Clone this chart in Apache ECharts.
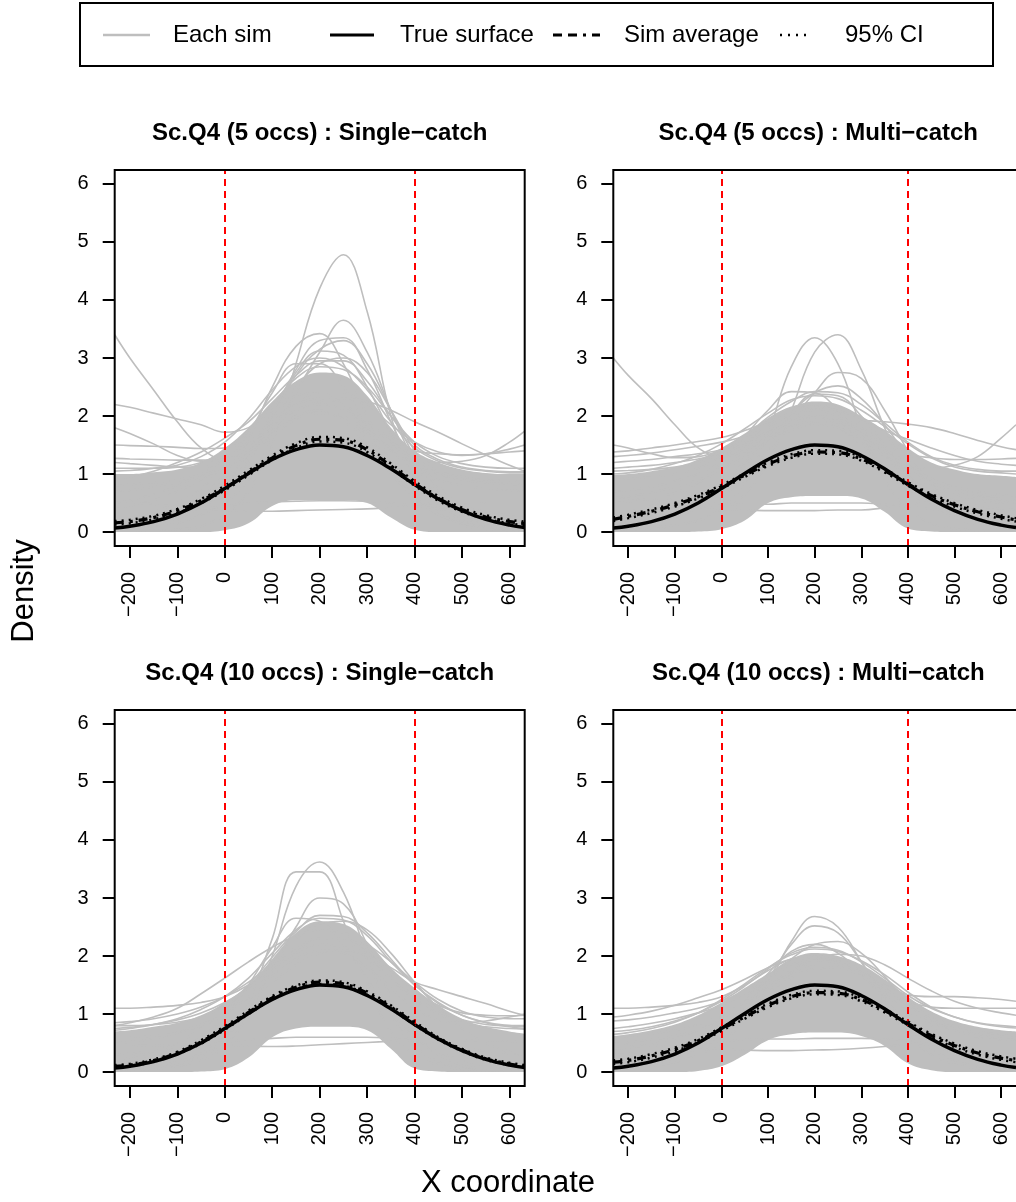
<!DOCTYPE html>
<html><head><meta charset="utf-8">
<script src="https://cdn.jsdelivr.net/npm/echarts@6/dist/echarts.min.js"></script>
<style>html,body{margin:0;padding:0;background:#fff}#c{width:1016px;height:1202px}</style>
</head><body><div id="c"></div>
<script>
// ---------- data ----------
const xs = [-232,-200,-150,-100,-50,0,50,100,150,200,250,300,350,400,450,500,550,600,632];
const xTicks = [-200,-100,0,100,200,300,400,500,600];
const yTicks = [0,1,2,3,4,5,6];
const vlineX = [0,400];
const titles = ['Sc.Q4 (5 occs) : Single\u2212catch','Sc.Q4 (5 occs) : Multi\u2212catch','Sc.Q4 (10 occs) : Single\u2212catch','Sc.Q4 (10 occs) : Multi\u2212catch'];
const legendLabels = ['Each sim','True surface','Sim average','95% CI'];

const truth = [0.07,0.10,0.18,0.31,0.50,0.75,1.01,1.25,1.42,1.50,1.47,1.32,1.09,0.82,0.57,0.37,0.22,0.12,0.08];

// panel 1
const avg1  = [0.16,0.18,0.25,0.37,0.54,0.76,1.02,1.28,1.49,1.60,1.58,1.42,1.14,0.84,0.58,0.39,0.26,0.18,0.15];
const ciLo1 = [0.13,0.15,0.22,0.33,0.50,0.72,0.98,1.24,1.45,1.56,1.54,1.38,1.10,0.80,0.54,0.35,0.23,0.15,0.12];
const ciHi1 = [0.19,0.21,0.28,0.40,0.57,0.80,1.06,1.32,1.53,1.64,1.62,1.46,1.18,0.88,0.62,0.42,0.29,0.21,0.18];
const band1Lo = [0,0,0,0,0,0.03,0.15,0.45,0.55,0.55,0.55,0.5,0.25,0.04,0,0,0,0,0];
const band1Hi = [1.0,1.0,1.03,1.08,1.2,1.45,1.8,2.25,2.6,2.75,2.7,2.35,1.8,1.4,1.2,1.08,1.02,1.0,1.0];
const sims1 = [
 [0.02,0.02,0.03,0.05,0.1,0.3,0.7,1.5,2.9,4.2,4.78,3.8,2.0,0.9,0.35,0.12,0.05,0.03,0.02],
 [0.05,0.06,0.1,0.15,0.3,0.5,0.9,1.6,2.4,3.1,3.65,3.1,2.1,1.2,0.6,0.3,0.15,0.08,0.05],
 [0.1,0.12,0.2,0.35,0.6,1.0,1.6,2.5,3.2,3.42,2.9,2.0,1.2,0.6,0.3,0.15,0.08,0.05,0.04],
 [0.05,0.07,0.12,0.2,0.4,0.7,1.2,2.0,2.8,3.3,3.35,2.8,1.9,1.1,0.5,0.2,0.1,0.05,0.04],
 [0.1,0.12,0.18,0.3,0.5,0.8,1.3,2.0,2.7,3.15,3.3,2.9,2.1,1.3,0.7,0.35,0.18,0.1,0.08],
 [0.08,0.1,0.18,0.3,0.5,0.85,1.35,2.05,2.75,3.12,3.05,2.5,1.7,1.0,0.5,0.25,0.12,0.07,0.05],
 [0.15,0.18,0.25,0.38,0.6,0.9,1.35,1.95,2.5,2.9,3.0,2.75,2.1,1.4,0.8,0.45,0.25,0.15,0.1],
 [0.2,0.25,0.35,0.5,0.75,1.15,1.7,2.4,2.9,2.9,2.5,1.8,1.1,0.6,0.3,0.15,0.1,0.06,0.05],
 [3.4,3.0,2.45,1.9,1.45,1.25,1.35,1.7,2.0,2.1,1.9,1.5,1.0,0.6,0.35,0.2,0.12,0.08,0.06],
 [2.2,2.15,2.05,1.95,1.85,1.72,1.8,2.1,2.35,2.4,2.2,1.8,1.4,1.1,0.9,0.8,0.75,0.72,0.7],
 [1.8,1.7,1.52,1.32,1.22,1.25,1.4,1.7,2.0,2.1,1.95,1.6,1.2,0.85,0.6,0.45,0.35,0.3,0.28],
 [1.5,1.49,1.48,1.46,1.44,1.45,1.6,1.9,2.2,2.3,2.2,1.9,1.55,1.25,1.05,0.95,0.9,0.88,0.87],
 [1.27,1.26,1.25,1.24,1.24,1.3,1.5,1.8,2.1,2.2,2.1,1.8,1.5,1.2,1.0,0.9,0.85,0.82,0.8],
 [1.2,1.18,1.15,1.12,1.12,1.2,1.4,1.7,1.95,2.05,1.95,1.7,1.4,1.15,1.0,0.92,0.88,0.86,0.85],
 [0.5,0.55,0.65,0.8,1.0,1.25,1.55,1.85,2.1,2.25,2.3,2.25,2.1,1.9,1.72,1.52,1.33,1.15,1.05],
 [0.4,0.45,0.55,0.7,0.9,1.15,1.45,1.75,2.0,2.1,2.0,1.75,1.45,1.25,1.2,1.22,1.32,1.55,1.74],
 [0.8,0.82,0.85,0.9,1.0,1.2,1.5,1.85,2.2,2.4,2.4,2.2,1.85,1.55,1.38,1.32,1.35,1.43,1.5],
 [0.7,0.72,0.78,0.85,0.95,1.1,1.35,1.65,1.95,2.1,2.1,1.9,1.6,1.4,1.35,1.33,1.35,1.38,1.4],
 [1.05,1.06,1.1,1.15,1.3,1.55,1.95,2.45,2.85,3.0,2.85,2.45,1.9,1.45,1.22,1.1,1.05,1.02,1.02],
 [0.9,0.95,1.05,1.2,1.38,1.62,1.9,2.3,2.7,2.95,2.95,2.6,2.0,1.5,1.25,1.12,1.06,1.04,1.04],
 [1.1,1.1,1.1,1.12,1.2,1.4,1.75,2.2,2.65,2.85,2.8,2.5,2.0,1.55,1.3,1.18,1.12,1.1,1.1],
 [0.55,0.52,0.48,0.44,0.41,0.38,0.36,0.36,0.37,0.38,0.39,0.4,0.42,0.44,0.46,0.48,0.5,0.5,0.5],
 [0.3,0.3,0.32,0.35,0.4,0.45,0.5,0.52,0.53,0.54,0.54,0.53,0.5,0.45,0.4,0.35,0.32,0.3,0.3]
];

// panel 2
const avg2  = [0.22,0.27,0.36,0.47,0.61,0.78,0.98,1.17,1.31,1.38,1.37,1.26,1.06,0.83,0.63,0.47,0.35,0.26,0.21];
const ciLo2 = [0.19,0.24,0.33,0.44,0.58,0.75,0.95,1.14,1.28,1.35,1.34,1.23,1.03,0.80,0.60,0.44,0.32,0.23,0.18];
const ciHi2 = [0.25,0.30,0.39,0.50,0.64,0.81,1.01,1.20,1.34,1.41,1.40,1.29,1.09,0.86,0.66,0.50,0.38,0.29,0.24];
const band2Lo = [0,0,0,0,0.01,0.05,0.2,0.5,0.6,0.62,0.62,0.58,0.35,0.06,0.01,0,0,0,0];
const band2Hi = [0.98,1.0,1.05,1.12,1.25,1.45,1.7,1.95,2.15,2.25,2.2,2.0,1.75,1.45,1.2,1.08,1.0,0.97,0.95];
const sims2 = [
 [3.0,2.7,2.3,1.85,1.45,1.3,1.4,1.65,1.85,1.9,1.8,1.5,1.1,0.75,0.5,0.35,0.25,0.2,0.18],
 [0.03,0.04,0.06,0.1,0.2,0.4,0.85,1.7,2.85,3.35,2.9,1.8,0.9,0.4,0.15,0.06,0.03,0.02,0.02],
 [0.05,0.06,0.08,0.12,0.2,0.35,0.65,1.2,2.1,3.1,3.4,2.8,1.8,1.0,0.5,0.25,0.12,0.07,0.05],
 [0.1,0.12,0.16,0.25,0.4,0.6,0.95,1.4,1.9,2.4,2.75,2.65,2.1,1.4,0.8,0.4,0.2,0.1,0.08],
 [0.2,0.22,0.3,0.42,0.6,0.85,1.2,1.6,2.05,2.4,2.52,2.3,1.85,1.3,0.85,0.5,0.3,0.2,0.15],
 [0.3,0.35,0.45,0.6,0.85,1.2,1.65,2.1,2.42,2.4,2.1,1.6,1.1,0.7,0.45,0.3,0.22,0.18,0.15],
 [0.15,0.18,0.25,0.35,0.55,0.8,1.15,1.6,2.05,2.38,2.35,2.0,1.5,1.0,0.6,0.35,0.2,0.12,0.1],
 [1.5,1.45,1.35,1.28,1.3,1.42,1.65,1.95,2.15,2.2,2.05,1.7,1.3,0.95,0.7,0.55,0.45,0.4,0.38],
 [1.38,1.4,1.45,1.5,1.56,1.63,1.75,1.9,2.0,2.0,1.85,1.6,1.3,1.0,0.8,0.65,0.55,0.5,0.48],
 [1.3,1.32,1.36,1.42,1.48,1.55,1.65,1.8,1.95,2.0,1.9,1.65,1.35,1.05,0.85,0.7,0.6,0.55,0.52],
 [1.2,1.22,1.25,1.3,1.35,1.42,1.55,1.72,1.9,1.98,1.9,1.7,1.4,1.1,0.9,0.75,0.65,0.6,0.58],
 [1.1,1.12,1.15,1.2,1.26,1.35,1.5,1.7,1.9,2.0,1.95,1.75,1.45,1.15,0.92,0.78,0.7,0.65,0.62],
 [0.6,0.62,0.68,0.78,0.9,1.1,1.35,1.6,1.8,1.9,1.92,1.92,1.9,1.86,1.8,1.7,1.58,1.47,1.42],
 [0.5,0.52,0.58,0.68,0.85,1.05,1.3,1.55,1.75,1.85,1.8,1.6,1.35,1.15,1.1,1.15,1.3,1.62,1.85],
 [0.7,0.72,0.78,0.88,1.0,1.2,1.45,1.75,2.0,2.15,2.1,1.95,1.75,1.6,1.45,1.32,1.22,1.17,1.15],
 [0.9,0.92,0.95,1.0,1.1,1.3,1.55,1.85,2.05,2.1,2.0,1.8,1.55,1.35,1.28,1.25,1.25,1.26,1.27],
 [1.0,1.02,1.08,1.18,1.32,1.52,1.78,2.05,2.28,2.35,2.3,2.1,1.82,1.52,1.28,1.12,1.05,1.02,1.0],
 [1.05,1.06,1.08,1.12,1.2,1.38,1.65,1.98,2.25,2.42,2.4,2.2,1.88,1.55,1.3,1.15,1.08,1.05,1.05],
 [0.6,0.58,0.55,0.5,0.45,0.4,0.38,0.37,0.37,0.37,0.38,0.38,0.42,0.48,0.52,0.55,0.57,0.58,0.58],
 [0.3,0.32,0.35,0.4,0.44,0.47,0.48,0.48,0.5,0.5,0.5,0.5,0.48,0.45,0.4,0.35,0.32,0.3,0.3]
];

// panel 3
const avg3  = [0.10,0.12,0.20,0.33,0.52,0.76,1.03,1.28,1.46,1.55,1.52,1.36,1.12,0.84,0.58,0.38,0.23,0.14,0.10];
const ciLo3 = [0.08,0.10,0.18,0.31,0.49,0.73,1.00,1.25,1.43,1.52,1.49,1.33,1.09,0.81,0.56,0.36,0.21,0.12,0.08];
const ciHi3 = [0.12,0.14,0.22,0.35,0.55,0.79,1.06,1.31,1.49,1.58,1.55,1.39,1.15,0.87,0.60,0.40,0.25,0.16,0.12];
const band3Lo = [0,0,0,0,0.01,0.05,0.25,0.6,0.75,0.78,0.78,0.72,0.4,0.06,0.01,0,0,0,0];
const band3Hi = [0.7,0.72,0.78,0.85,0.98,1.2,1.5,1.95,2.4,2.6,2.55,2.25,1.8,1.45,1.15,0.92,0.78,0.7,0.66];
const sims3 = [
 [0.02,0.03,0.05,0.1,0.2,0.45,1.0,2.0,3.2,3.62,3.1,2.0,1.0,0.45,0.18,0.07,0.03,0.02,0.02],
 [0.03,0.04,0.07,0.13,0.27,0.55,1.2,2.3,3.45,3.45,2.6,1.5,0.7,0.3,0.12,0.05,0.03,0.02,0.02],
 [0.05,0.06,0.1,0.18,0.32,0.6,1.05,1.75,2.5,3.0,2.9,2.2,1.3,0.65,0.3,0.12,0.06,0.04,0.03],
 [0.15,0.18,0.27,0.4,0.6,0.95,1.5,2.15,2.65,2.6,2.2,1.6,1.0,0.6,0.35,0.2,0.12,0.08,0.06],
 [0.2,0.25,0.35,0.5,0.75,1.05,1.45,1.9,2.3,2.55,2.6,2.45,2.05,1.55,1.1,0.75,0.5,0.35,0.28],
 [1.1,1.1,1.12,1.15,1.2,1.3,1.5,1.8,2.1,2.3,2.3,2.1,1.75,1.4,1.15,1.02,0.98,0.97,0.98],
 [0.8,0.85,0.95,1.1,1.35,1.62,1.9,2.15,2.35,2.45,2.4,2.2,1.9,1.55,1.25,1.05,0.95,0.92,0.92],
 [0.85,0.87,0.92,1.0,1.12,1.3,1.55,1.85,2.15,2.3,2.25,2.0,1.65,1.3,1.05,0.9,0.82,0.8,0.8],
 [0.75,0.77,0.82,0.9,1.02,1.2,1.45,1.75,2.05,2.2,2.15,1.95,1.6,1.25,1.0,0.85,0.78,0.75,0.74],
 [0.5,0.52,0.58,0.68,0.82,1.0,1.25,1.55,1.85,2.05,2.1,2.0,1.8,1.55,1.42,1.3,1.18,1.05,0.98],
 [0.6,0.6,0.62,0.68,0.8,1.0,1.3,1.65,1.95,2.1,2.05,1.8,1.45,1.1,0.9,0.85,0.88,0.95,1.0],
 [0.72,0.75,0.82,0.92,1.08,1.3,1.62,2.05,2.45,2.65,2.62,2.35,1.9,1.5,1.2,0.98,0.85,0.78,0.75],
 [0.8,0.8,0.82,0.86,0.95,1.15,1.5,1.98,2.42,2.7,2.68,2.4,1.95,1.5,1.18,0.98,0.86,0.8,0.78],
 [0.45,0.45,0.46,0.47,0.48,0.47,0.45,0.44,0.45,0.47,0.49,0.51,0.53,0.55,0.55,0.55,0.54,0.53,0.52],
 [0.3,0.32,0.35,0.4,0.46,0.52,0.56,0.58,0.6,0.6,0.6,0.6,0.58,0.54,0.48,0.42,0.36,0.32,0.3]
];

// panel 4
const avg4  = [0.17,0.20,0.28,0.39,0.54,0.74,0.95,1.15,1.30,1.37,1.36,1.25,1.06,0.84,0.63,0.46,0.33,0.24,0.20];
const ciLo4 = [0.14,0.17,0.25,0.36,0.51,0.71,0.92,1.12,1.27,1.34,1.33,1.22,1.03,0.81,0.60,0.43,0.30,0.21,0.17];
const ciHi4 = [0.20,0.23,0.31,0.42,0.57,0.77,0.98,1.18,1.33,1.40,1.39,1.28,1.09,0.87,0.66,0.49,0.36,0.27,0.23];
const band4Lo = [0,0,0,0,0.02,0.1,0.3,0.55,0.65,0.68,0.68,0.62,0.45,0.15,0.03,0,0,0,0];
const band4Hi = [0.62,0.65,0.72,0.82,0.98,1.2,1.45,1.7,1.95,2.05,2.0,1.85,1.6,1.3,1.05,0.88,0.78,0.72,0.7];
const sims4 = [
 [0.05,0.06,0.1,0.17,0.3,0.5,0.9,1.5,2.25,2.68,2.5,1.9,1.2,0.65,0.3,0.13,0.06,0.04,0.03],
 [0.08,0.1,0.15,0.24,0.4,0.65,1.05,1.6,2.2,2.52,2.4,1.9,1.3,0.75,0.4,0.2,0.1,0.06,0.05],
 [0.2,0.22,0.3,0.42,0.6,0.85,1.2,1.6,1.95,2.2,2.25,2.05,1.65,1.2,0.8,0.5,0.3,0.2,0.15],
 [0.15,0.18,0.25,0.38,0.58,0.85,1.25,1.7,2.08,2.2,2.05,1.7,1.25,0.85,0.5,0.3,0.18,0.12,0.1],
 [0.4,0.42,0.48,0.58,0.72,0.92,1.18,1.48,1.75,1.95,2.03,2.0,1.85,1.62,1.4,1.22,1.1,1.02,0.98],
 [1.1,1.1,1.12,1.15,1.2,1.3,1.5,1.75,1.95,2.0,1.9,1.65,1.35,1.05,0.85,0.72,0.65,0.6,0.58],
 [0.95,0.98,1.05,1.15,1.28,1.42,1.6,1.8,1.95,2.0,1.92,1.72,1.45,1.15,0.9,0.72,0.6,0.55,0.52],
 [0.88,0.9,0.95,1.02,1.1,1.22,1.4,1.62,1.85,1.95,1.9,1.72,1.45,1.15,0.92,0.78,0.68,0.62,0.6],
 [0.75,0.78,0.84,0.92,1.02,1.15,1.35,1.6,1.82,1.92,1.88,1.7,1.45,1.18,0.95,0.8,0.7,0.65,0.62],
 [0.6,0.62,0.66,0.72,0.82,0.98,1.2,1.45,1.7,1.85,1.85,1.7,1.5,1.33,1.3,1.3,1.28,1.25,1.22],
 [0.5,0.52,0.56,0.62,0.72,0.88,1.1,1.38,1.62,1.78,1.8,1.65,1.42,1.22,1.12,1.1,1.1,1.1,1.1],
 [0.65,0.68,0.75,0.86,1.02,1.25,1.52,1.8,2.02,2.12,2.08,1.92,1.68,1.38,1.12,0.95,0.84,0.78,0.76],
 [0.7,0.72,0.78,0.88,1.02,1.22,1.48,1.78,2.05,2.15,2.1,1.9,1.62,1.32,1.1,0.95,0.85,0.8,0.78],
 [0.5,0.48,0.46,0.44,0.42,0.4,0.38,0.37,0.37,0.38,0.39,0.41,0.44,0.48,0.5,0.52,0.52,0.52,0.52],
 [0.3,0.32,0.36,0.42,0.48,0.53,0.56,0.57,0.57,0.58,0.58,0.58,0.57,0.54,0.48,0.42,0.36,0.32,0.3]
];

// ---------- layout ----------
const FONT = '"Liberation Sans", Arial, Helvetica, sans-serif';
const GRAY = '#bebebe';
const W = 410, H = 376;
const panels = [
  {left:114.7, top:170, title:titles[0], lo:band1Lo, hi:band1Hi, sims:sims1, avg:avg1, ciLo:ciLo1, ciHi:ciHi1},
  {left:613.3, top:170, title:titles[1], lo:band2Lo, hi:band2Hi, sims:sims2, avg:avg2, ciLo:ciLo2, ciHi:ciHi2},
  {left:114.7, top:710, title:titles[2], lo:band3Lo, hi:band3Hi, sims:sims3, avg:avg3, ciLo:ciLo3, ciHi:ciHi3},
  {left:613.3, top:710, title:titles[3], lo:band4Lo, hi:band4Hi, sims:sims4, avg:avg4, ciLo:ciLo4, ciHi:ciHi4}
];
const pts = arr => xs.map((x,i)=>[x, arr[i]]);
const fmt = v => (v < 0 ? '\u2212' + Math.abs(v) : String(v));
const SM = 0.4;

const grid = [], xAxis = [], yAxis = [], series = [], graphic = [];
panels.forEach((p, k) => {
  grid.push({left:p.left, top:p.top, width:W, height:H, show:false});
  xAxis.push({gridIndex:k, type:'value', min:-232, max:632,
    axisLine:{show:false, onZero:false}, splitLine:{show:false},
    axisTick:{show:true, customValues:xTicks, length:12, lineStyle:{color:'#000', width:2}},
    axisLabel:{customValues:xTicks, rotate:90, margin:26, fontSize:20, color:'#000', fontFamily:FONT, formatter:fmt}});
  yAxis.push({gridIndex:k, type:'value', min:-0.24, max:6.24,
    axisLine:{show:false, onZero:false}, splitLine:{show:false},
    axisTick:{show:true, customValues:yTicks, length:12, lineStyle:{color:'#000', width:2}},
    axisLabel:{customValues:yTicks, margin:26, fontSize:20, color:'#000', fontFamily:FONT, formatter:fmt}});
  const base = {type:'line', xAxisIndex:k, yAxisIndex:k, symbol:'none', smooth:SM, silent:true, animation:false};
  // dense band of simulations: gray up to the upper envelope, white below the lower envelope
  series.push(Object.assign({}, base, {data:pts(p.hi), lineStyle:{width:0}, areaStyle:{color:GRAY, opacity:1}, z:1}));
  series.push(Object.assign({}, base, {data:pts(p.lo), lineStyle:{width:0}, areaStyle:{color:'#ffffff', opacity:1}, z:1}));
  // individual sims
  p.sims.forEach(s => series.push(Object.assign({}, base, {data:pts(s), lineStyle:{color:GRAY, width:1.6}, z:2})));
  // red verticals
  series.push(Object.assign({}, base, {data:[], z:3,
    markLine:{silent:true, symbol:['none','none'], label:{show:false}, animation:false,
      lineStyle:{color:'#ff0000', type:[7,5], width:2}, data:vlineX.map(x=>({xAxis:x}))}}));
  // truth, CI, average
  series.push(Object.assign({}, base, {data:pts(truth), lineStyle:{color:'#000', width:3.5}, z:4}));
  series.push(Object.assign({}, base, {data:pts(p.ciLo), lineStyle:{color:'#000', width:2.5, type:[2,5]}, z:5}));
  series.push(Object.assign({}, base, {data:pts(p.ciHi), lineStyle:{color:'#000', width:2.5, type:[2,5]}, z:5}));
  series.push(Object.assign({}, base, {data:pts(p.avg), lineStyle:{color:'#000', width:3.2, type:[9,6,3,6]}, z:6}));
  // box + title
  graphic.push({type:'rect', z:100, shape:{x:p.left, y:p.top, width:W, height:H},
    style:{fill:'none', stroke:'#000', lineWidth:2}});
  graphic.push({type:'text', z:100, x:p.left + W/2, y:p.top - 37,
    style:{text:p.title, fontSize:24, fontWeight:'bold', fontFamily:FONT, fill:'#000', align:'center', verticalAlign:'middle'}});
});

// axis titles
graphic.push({type:'text', z:100, x:24, y:591, rotation:Math.PI/2,
  style:{text:'Density', fontSize:31, fontFamily:FONT, fill:'#000', align:'center', verticalAlign:'middle'}});
graphic.push({type:'text', z:100, x:508, y:1183,
  style:{text:'X coordinate', fontSize:31, fontFamily:FONT, fill:'#000', align:'center', verticalAlign:'middle'}});

// legend
const LY = 35;
graphic.push({type:'rect', z:100, shape:{x:80, y:3, width:913, height:63}, style:{fill:'#fff', stroke:'#000', lineWidth:2}});
const legItems = [
  {x1:103, x2:150, tx:173, stroke:GRAY, w:2.5, dash:null},
  {x1:330, x2:374, tx:400, stroke:'#000', w:3, dash:null},
  {x1:553, x2:600, tx:624, stroke:'#000', w:3, dash:[9,6,9,6,3,6]},
  {x1:780, x2:810, tx:845, stroke:'#000', w:2.5, dash:[2,6]}
];
legItems.forEach((it, i) => {
  graphic.push({type:'line', z:101, shape:{x1:it.x1, y1:LY, x2:it.x2, y2:LY},
    style:{stroke:it.stroke, lineWidth:it.w, lineDash:it.dash}});
  graphic.push({type:'text', z:101, x:it.tx, y:LY,
    style:{text:legendLabels[i], fontSize:24, fontFamily:FONT, fill:'#000', align:'left', verticalAlign:'middle'}});
});

const chart = echarts.init(document.getElementById('c'), null, {renderer:'canvas'});
chart.setOption({animation:false, backgroundColor:'#fff', grid, xAxis, yAxis, series, graphic});
</script></body></html>
